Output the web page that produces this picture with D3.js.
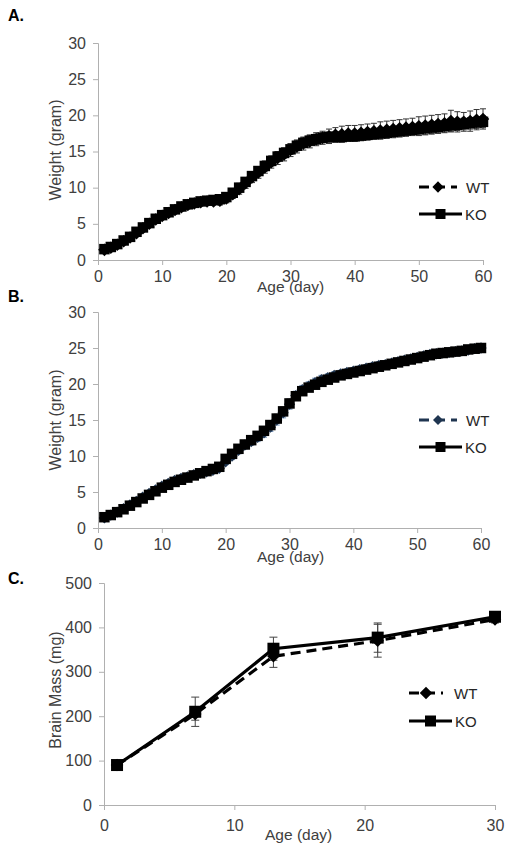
<!DOCTYPE html>
<html><head><meta charset="utf-8">
<script src="https://cdn.jsdelivr.net/npm/d3@7"></script>
<style>body{margin:0;background:#fff}svg{display:block}</style>
</head><body>
<script>
// ---------- DATA ----------
const daysAB = d3.range(1, 61);
const wtA = [1.4,1.7,2.1,2.6,3.1,3.7,4.4,5.0,5.6,6.1,6.5,6.9,7.3,7.6,7.8,8.0,8.1,8.1,8.2,8.5,9.1,9.8,10.6,11.4,12.1,12.8,13.5,14.1,14.6,15.2,15.7,16.1,16.4,16.7,16.9,17.1,17.3,17.4,17.5,17.5,17.6,17.7,17.8,17.9,18.0,18.1,18.2,18.3,18.4,18.5,18.6,18.7,18.8,18.9,19.2,19.1,19.1,19.2,19.4,19.5];
const wtAErr = [0.2,0.2,0.2,0.3,0.3,0.3,0.3,0.4,0.4,0.4,0.4,0.4,0.5,0.5,0.5,0.5,0.5,0.5,0.6,0.6,0.6,0.7,0.7,0.7,0.8,0.8,0.8,0.9,0.9,0.9,0.9,0.9,0.9,0.9,0.9,1.0,1.0,1.1,1.1,1.1,1.1,1.1,1.1,1.2,1.2,1.2,1.2,1.2,1.2,1.3,1.3,1.3,1.3,1.3,1.5,1.4,1.3,1.4,1.4,1.4];
const koA = [1.5,1.8,2.2,2.7,3.2,3.9,4.5,5.1,5.7,6.2,6.6,7.0,7.4,7.7,7.9,8.1,8.2,8.3,8.4,8.7,9.3,10.0,10.8,11.6,12.3,13.0,13.7,14.3,14.8,15.3,15.8,16.2,16.5,16.7,16.9,17.0,17.0,17.0,17.1,17.1,17.2,17.3,17.4,17.5,17.6,17.7,17.8,17.9,18.0,18.1,18.2,18.3,18.4,18.5,18.6,18.7,18.8,18.9,19.0,19.1];
const koAErr = [0.2,0.2,0.2,0.2,0.3,0.3,0.3,0.3,0.3,0.4,0.4,0.4,0.4,0.4,0.4,0.4,0.5,0.5,0.5,0.5,0.5,0.6,0.6,0.6,0.6,0.7,0.7,0.7,0.7,0.7,0.7,0.7,0.7,0.7,0.7,0.7,0.7,0.7,0.7,0.7,0.7,0.7,0.7,0.7,0.7,0.7,0.7,0.7,0.7,0.8,0.8,0.8,0.8,0.8,0.8,0.8,0.8,0.8,0.8,0.8];
const wtB = [1.4,1.8,2.2,2.7,3.2,3.7,4.3,4.8,5.3,5.8,6.2,6.6,6.9,7.1,7.4,7.6,7.8,8.0,8.3,9.2,10.0,10.8,11.5,12.0,12.6,13.2,14.0,15.0,16.0,17.2,18.4,19.2,19.7,20.2,20.6,20.9,21.2,21.4,21.6,21.8,22.0,22.2,22.4,22.6,22.7,22.9,23.1,23.3,23.5,23.7,23.9,24.1,24.2,24.3,24.4,24.5,24.6,24.7,24.9,25.0];
const wtBErr = [0.2,0.2,0.2,0.2,0.2,0.3,0.3,0.3,0.3,0.3,0.3,0.3,0.3,0.3,0.3,0.3,0.3,0.4,0.4,0.4,0.5,0.5,0.5,0.5,0.6,0.6,0.6,0.7,0.7,0.7,0.6,0.6,0.6,0.6,0.6,0.5,0.5,0.5,0.5,0.5,0.5,0.5,0.5,0.5,0.5,0.4,0.4,0.4,0.4,0.4,0.4,0.4,0.4,0.4,0.4,0.4,0.4,0.4,0.4,0.4];
const koB = [1.5,1.8,2.2,2.6,3.1,3.6,4.1,4.6,5.1,5.6,6.0,6.4,6.7,7.0,7.3,7.6,7.9,8.2,8.5,9.6,10.3,11.0,11.6,12.2,12.8,13.5,14.3,15.2,16.2,17.3,18.3,19.0,19.5,19.9,20.3,20.6,20.9,21.2,21.4,21.6,21.8,22.0,22.2,22.4,22.6,22.8,23.0,23.2,23.4,23.6,23.8,24.0,24.2,24.3,24.4,24.5,24.6,24.8,24.9,25.0];
const koBErr = [0.2,0.2,0.2,0.2,0.2,0.2,0.3,0.3,0.3,0.3,0.3,0.3,0.3,0.3,0.3,0.3,0.3,0.3,0.4,0.4,0.4,0.4,0.5,0.5,0.5,0.5,0.5,0.6,0.6,0.6,0.6,0.5,0.5,0.5,0.5,0.5,0.5,0.5,0.5,0.5,0.5,0.4,0.4,0.4,0.4,0.4,0.4,0.4,0.4,0.4,0.4,0.4,0.4,0.4,0.4,0.4,0.4,0.4,0.4,0.4];
const daysC = [1, 7, 13, 21, 30];
const wtC = [90, 205, 335, 370, 418];
const wtCErr = [4, 14, 25, 37, 8];
const koC = [90, 210, 352, 377, 424];
const koCErr = [4, 33, 26, 33, 8];
const yTicksAB = [0, 5, 10, 15, 20, 25, 30];
const xTicksAB = [0, 10, 20, 30, 40, 50, 60];
const yTicksC = [0, 100, 200, 300, 400, 500];
const xTicksC = [0, 10, 20, 30];
const seriesNames = ["WT", "KO"];

// ---------- DRAW ----------
const svg = d3.select("body").append("svg").attr("width", 512).attr("height", 851);
const FONT = "'Liberation Sans', Arial, sans-serif";
const TXT = "#404040", AX = "#b0b0b0";

function panel(o) {
  const x = d3.scaleLinear().domain(o.xDomain).range(o.xRange);
  const y = d3.scaleLinear().domain(o.yDomain).range(o.yRange);
  const g = svg.append("g");

  g.append("text").attr("x", 8).attr("y", o.letterY).text(o.letter)
    .attr("font-family", FONT).attr("font-weight", "bold").attr("font-size", 16).attr("fill", "#000");

  const ya = g.append("g").attr("transform", `translate(${o.xRange[0]},0)`)
    .call(d3.axisLeft(y).tickValues(o.yTicks).tickSize(5).tickPadding(7).tickFormat(d3.format("d")));
  const xa = g.append("g").attr("transform", `translate(0,${o.yRange[0]})`)
    .call(d3.axisBottom(x).tickValues(o.xTicks).tickSize(5).tickPadding(o.xPad).tickFormat(d3.format("d")));
  [ya, xa].forEach(a => {
    a.select(".domain").attr("stroke", AX);
    a.selectAll(".tick line").attr("stroke", AX);
    a.selectAll("text").attr("font-family", FONT).attr("font-size", 16).attr("fill", TXT);
  });

  g.append("text").attr("transform", `translate(${o.yTitleX},${o.yTitleY}) rotate(-90)`)
    .attr("text-anchor", "middle").attr("dy", "0.35em").text(o.yTitle)
    .attr("font-family", FONT).attr("font-size", 16).attr("fill", TXT);
  g.append("text").attr("x", o.xTitleX).attr("y", o.xTitleY).text("Age (day)")
    .attr("font-family", FONT).attr("font-size", 15.5).attr("fill", TXT);

  const ser = [
    {name: seriesNames[0], vals: o.wt, err: o.wtErr, color: o.wtColor, dash: o.dash, marker: "diamond", errColor: o.wtErrColor},
    {name: seriesNames[1], vals: o.ko, err: o.koErr, color: "#000", dash: null, marker: "square", errColor: o.koErrColor}
  ];
  ser.forEach(s => {
    const pts = o.xs.map((d, i) => ({x: d, y: s.vals[i], e: s.err[i]}));
    const eg = g.append("g");
    pts.forEach(p => {
      eg.append("line").attr("x1", x(p.x)).attr("x2", x(p.x)).attr("y1", y(p.y - p.e)).attr("y2", y(p.y + p.e))
        .attr("stroke", s.errColor).attr("stroke-width", 1);
      [p.y - p.e, p.y + p.e].forEach(v => eg.append("line")
        .attr("x1", x(p.x) - o.cap).attr("x2", x(p.x) + o.cap).attr("y1", y(v)).attr("y2", y(v))
        .attr("stroke", s.errColor).attr("stroke-width", 1));
    });
  });
  ser.forEach(s => {
    const pts = o.xs.map((d, i) => ({x: d, y: s.vals[i]}));
    g.append("path").datum(pts)
      .attr("d", d3.line().x(d => x(d.x)).y(d => y(d.y)))
      .attr("fill", "none").attr("stroke", s.color).attr("stroke-width", o.lw)
      .attr("stroke-dasharray", s.dash);
    const sym = d3.symbol().type(s.marker === "square" ? d3.symbolSquare : d3.symbolDiamond2)
      .size(s.marker === "square" ? o.sq * o.sq : o.dm * o.dm);
    g.append("g").selectAll("path").data(pts).join("path")
      .attr("transform", d => `translate(${x(d.x)},${y(d.y)})`)
      .attr("d", sym).attr("fill", s.color);
  });

  ser.forEach((s, i) => {
    const ly = o.legY[i];
    const lg = g.append("g");
    lg.append("line").attr("x1", o.legX0).attr("x2", o.legX1[i]).attr("y1", ly).attr("y2", ly)
      .attr("stroke", s.color).attr("stroke-width", o.lw).attr("stroke-dasharray", s.dash ? "10,6" : null);
    const mx = (o.legX0 + o.legX1[i]) / 2;
    lg.append("path").attr("transform", `translate(${mx},${ly})`)
      .attr("d", d3.symbol().type(s.marker === "square" ? d3.symbolSquare : d3.symbolDiamond2)
        .size(s.marker === "square" ? o.lsq * o.lsq : o.ldm * o.ldm)).attr("fill", s.color);
    lg.append("text").attr("x", o.legTX[i]).attr("y", ly + 5.5).text(s.name)
      .attr("font-family", FONT).attr("font-size", 15).attr("fill", "#262626");
  });
}

panel({letter: "A.", letterY: 21, xs: daysAB, wt: wtA, wtErr: wtAErr, ko: koA, koErr: koAErr,
  xDomain: [0, 60], yDomain: [0, 30], xRange: [98, 483], yRange: [260, 43], yTicks: yTicksAB, xTicks: xTicksAB,
  xPad: 6, yTitle: "Weight (gram)", yTitleX: 55, yTitleY: 150, xTitleX: 257, xTitleY: 292,
  wtColor: "#000", wtErrColor: "#333", koErrColor: "#333", dash: "6,3", lw: 3, sq: 10.5, dm: 10, cap: 3,
  lsq: 10, ldm: 9, legY: [187, 214], legX0: 419, legX1: [457, 462], legTX: [466, 465]});

panel({letter: "B.", letterY: 302, xs: daysAB, wt: wtB, wtErr: wtBErr, ko: koB, koErr: koBErr,
  xDomain: [0, 60], yDomain: [0, 30], xRange: [98, 481], yRange: [528, 312], yTicks: yTicksAB, xTicks: xTicksAB,
  xPad: 6, yTitle: "Weight (gram)", yTitleX: 55, yTitleY: 420, xTitleX: 257, xTitleY: 562,
  wtColor: "#1f3550", wtErrColor: "#6f8fb5", koErrColor: "#555", dash: "6,3", lw: 3, sq: 10.5, dm: 9, cap: 3,
  lsq: 10, ldm: 8, legY: [420, 447], legX0: 419, legX1: [457, 462], legTX: [466, 465]});

panel({letter: "C.", letterY: 584, xs: daysC, wt: wtC, wtErr: wtCErr, ko: koC, koErr: koCErr,
  xDomain: [0, 30], yDomain: [0, 500], xRange: [104, 495], yRange: [805, 583], yTicks: yTicksC, xTicks: xTicksC,
  xPad: 10, yTitle: "Brain Mass (mg)", yTitleX: 55, yTitleY: 690, xTitleX: 265, xTitleY: 840,
  wtColor: "#000", wtErrColor: "#444", koErrColor: "#444", dash: "10,6", lw: 3.2, sq: 12, dm: 10, cap: 4,
  lsq: 11, ldm: 10, legY: [693, 721], legX0: 409, legX1: [443, 452], legTX: [454, 455]});
</script>
</body></html>
